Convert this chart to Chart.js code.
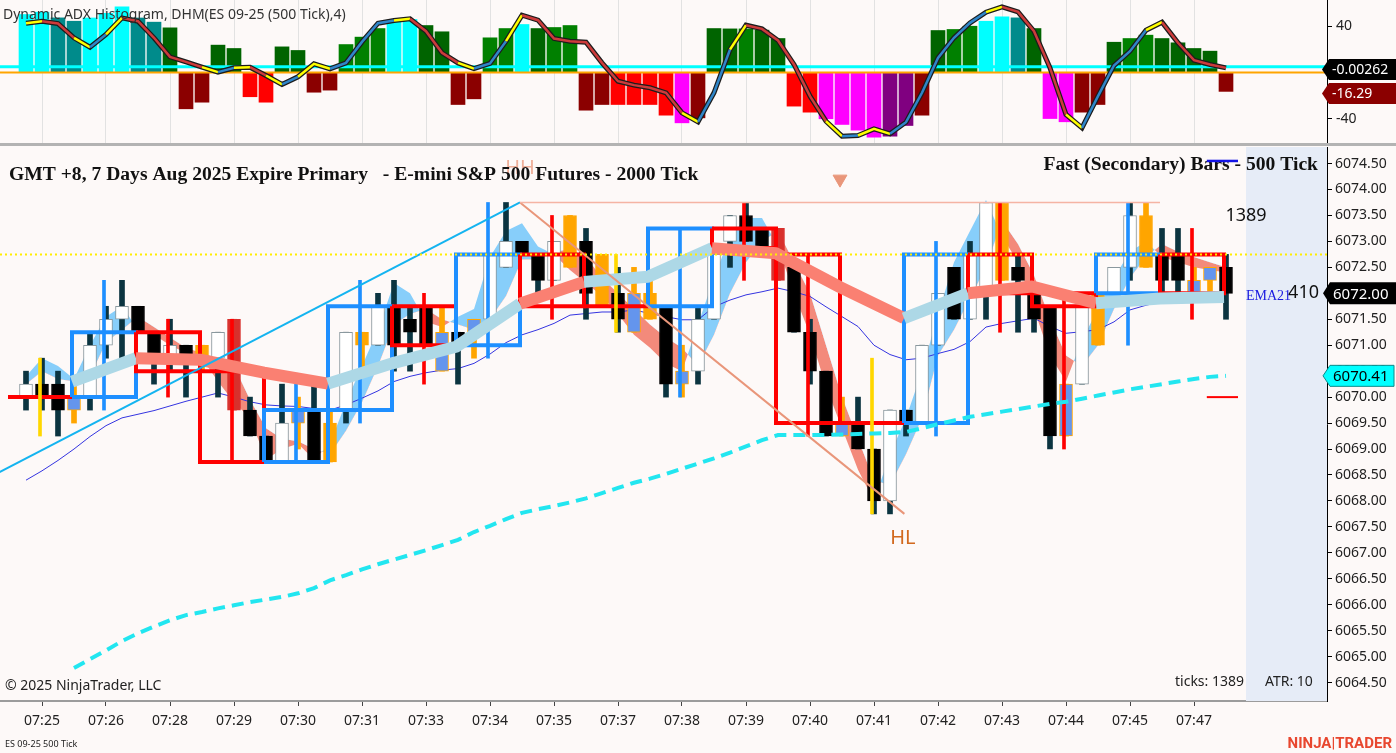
<!DOCTYPE html>
<html>
<head>
<meta charset="utf-8">
<title>ES 09-25 2000 Tick</title>
<script src="https://cdn.jsdelivr.net/npm/chart.js@4.4.1/dist/chart.umd.min.js"></script>
<style>
html,body{margin:0;padding:0;background:#fdf9f8;}
body{width:1396px;height:753px;position:relative;overflow:hidden;font-family:'Noto Sans',sans-serif;color:#222;}
canvas{position:absolute;left:0;}
#topC{top:0;}
#mainC{top:146px;}
#sep{position:absolute;left:0;top:143px;width:1396px;height:3px;background:#b3b3b3;}
.t{position:absolute;white-space:nowrap;line-height:1;}
</style>
</head>
<body>
<canvas id="topC" width="1396" height="143"></canvas>
<div id="sep"></div>
<canvas id="mainC" width="1396" height="594"></canvas>
<div class="t" style="left:5px;top:678px;font-size:14px;">© 2025 NinjaTrader, LLC</div>
<div class="t" style="left:1175px;top:674px;font-size:14px;">ticks: 1389</div>
<div class="t" style="left:1265px;top:674px;font-size:14px;">ATR: 10</div>
<div class="t" style="left:5px;top:739px;font-size:9px;">ES 09-25 500 Tick</div>
<div class="t" style="right:4px;top:736px;font-size:15px;font-weight:bold;color:#e8472f;font-family:Roboto,sans-serif;">NINJA|TRADER</div>
<script>
// ---------- DATA ----------
const timeLabels = ['07:25','07:26','07:28','07:29','07:30','07:31','07:33','07:34','07:35','07:37','07:38','07:39','07:40','07:41','07:42','07:43','07:44','07:45','07:47'];
const priceTicks = [6064.5,6065,6065.5,6066,6066.5,6067,6067.5,6068,6068.5,6069,6069.5,6070,6070.5,6071,6071.5,6072,6072.5,6073,6073.5,6074,6074.5];
const adxTicks = [40, -40];

// 500-tick candles
const candleOpen  = [6070.0,6070.25,6070.25,6070.0,6070.0,6071.0,6071.5,6071.75,6071.25,6070.75,
  6071.0,6071.0,6070.75,6071.5,6069.75,6069.25,6068.75,6069.75,6069.75,6069.5,
  6069.75,6071.25,6071.0,6071.75,6071.5,6071.75,6071.25,6071.25,6071.5,6071.5,
  6072.5,6073.0,6072.75,6072.25,6073.5,6073.0,6072.75,6072.0,6072.0,6072.0,
  6071.75,6070.5,6070.5,6071.5,6073.0,6073.5,6073.25,6073.25,6072.5,6071.25,
  6070.5,6069.5,6069.5,6069.0,6068.0,6069.75,6069.5,6071.0,6072.5,6071.5,
  6072.0,6073.75,6072.5,6072.0,6071.75,6070.25,6070.25,6072.0,6072.0,6072.5,
  6073.5,6072.75,6072.75,6072.25,6072.5,6072.5];
const candleHigh  = [6070.5,6070.75,6070.5,6070.25,6071.25,6071.75,6072.25,6071.75,6071.25,6071.5,
  6071.0,6071.0,6071.25,6071.5,6070.0,6069.25,6070.25,6070.0,6070.25,6069.75,
  6071.25,6071.25,6072.0,6072.25,6071.75,6071.75,6071.75,6071.25,6071.5,6072.75,
  6073.75,6073.0,6072.75,6073.0,6073.5,6073.25,6072.75,6072.5,6072.5,6072.25,
  6071.75,6071.0,6071.75,6072.75,6073.5,6073.75,6073.25,6073.25,6072.5,6071.5,
  6070.5,6070.0,6070.0,6069.0,6069.75,6069.75,6071.0,6072.0,6072.5,6073.0,
  6073.75,6073.75,6072.75,6072.0,6071.75,6070.25,6071.75,6072.0,6072.5,6073.75,
  6073.75,6073.25,6073.25,6072.5,6072.5,6072.75];
const candleLow   = [6069.75,6069.75,6069.25,6069.5,6069.75,6070.75,6070.75,6071.25,6070.25,6070.5,
  6070.0,6070.5,6070.0,6069.75,6069.25,6068.75,6068.75,6069.0,6068.75,6068.75,
  6069.5,6070.5,6071.0,6070.5,6070.5,6071.0,6070.5,6070.25,6070.75,6071.5,
  6072.5,6072.75,6072.0,6072.25,6072.5,6071.5,6071.75,6071.25,6071.25,6071.5,
  6070.0,6070.0,6070.25,6071.5,6072.5,6073.0,6072.75,6072.25,6071.25,6070.25,
  6069.25,6069.25,6069.0,6067.75,6067.75,6069.25,6069.5,6071.0,6071.5,6071.5,
  6071.5,6072.25,6071.25,6071.25,6069.0,6069.25,6070.25,6071.0,6072.0,6072.25,
  6072.5,6072.0,6072.0,6072.0,6072.0,6071.5];
const candleClose = [6070.25,6070.0,6069.75,6069.75,6071.0,6071.5,6071.75,6071.25,6070.75,6071.0,
  6070.75,6070.75,6071.25,6069.75,6069.25,6068.75,6069.5,6069.5,6068.75,6068.75,
  6071.25,6071.0,6071.75,6071.0,6071.25,6071.0,6070.5,6071.0,6071.25,6072.75,
  6073.0,6072.75,6072.25,6073.0,6072.5,6072.0,6071.75,6071.5,6071.25,6071.5,
  6070.25,6070.25,6071.5,6072.75,6073.5,6073.0,6072.75,6072.25,6071.25,6070.5,
  6069.25,6069.25,6069.0,6068.0,6069.75,6069.5,6071.0,6072.0,6071.5,6072.75,
  6073.75,6072.25,6072.25,6071.5,6069.25,6069.25,6071.75,6071.0,6072.5,6073.5,
  6072.5,6072.25,6072.25,6072.0,6072.25,6072.0];
// n = normal, o = orange signal bar, b = blue signal bar, r = crimson bar
const candleKind = ['n','n','n','b','n','n','n','n','n','n',
  'n','o','n','r','n','n','n','b','n','o',
  'n','o','n','n','n','n','b','n','b','n',
  'n','n','n','n','o','n','o','n','b','o',
  'n','b','n','n','n','n','n','r','n','n',
  'n','b','n','n','n','n','n','n','n','n',
  'n','o','n','n','n','b','n','o','n','n',
  'o','n','n','b','b','n'];

// 2000-tick bars (boxes)
const boxOpen  = [6070.0,6070.0,6071.25,6070.5,6068.75,6069.75,6071.75,6071.0,6072.75,6071.75,6071.75,6073.25,6072.75,6069.5,6069.5,6072.75,6072.0,6072.0,6072.75];
const boxHigh  = [6070.75,6072.25,6071.5,6071.5,6070.25,6072.25,6072.0,6073.75,6073.5,6072.75,6073.25,6073.75,6072.75,6070.75,6073.0,6073.75,6072.0,6073.75,6073.25];
const boxLow   = [6069.25,6069.75,6070.0,6068.75,6068.75,6069.5,6070.25,6070.75,6071.5,6071.25,6070.0,6072.25,6069.25,6067.75,6069.25,6071.25,6069.0,6071.0,6071.5];
const boxClose = [6070.0,6071.25,6070.5,6068.75,6069.75,6071.75,6071.0,6072.75,6071.75,6071.75,6073.25,6072.875,6069.5,6069.5,6072.75,6072.0,6071.75,6072.75,6072.0];

// thick trend line at 2000-tick bar edges, direction per segment
const trendVals = [6070.30,6070.75,6070.72,6070.47,6070.26,6070.65,6070.97,6071.80,6072.22,6072.32,6072.87,6072.77,6072.12,6071.52,6072.00,6072.13,6071.81,6071.90,6071.93];
const trendDir  = [1,-1,-1,-1,1,1,1,-1,1,1,-1,-1,-1,1,-1,-1,1,1];

// fast ribbon (two fast averages)
const fastA = [6070.4,6070.75,6070.6,6070.35,6071.0,6071.55,6071.75,6071.3,6071.2,6071.0,
  6070.85,6070.75,6070.3,6069.9,6069.6,6068.8,6069.0,6069.1,6068.8,6069.1,
  6069.9,6070.6,6071.3,6072.2,6072.0,6071.45,6071.35,6071.55,6071.7,6072.7,
  6073.2,6073.35,6072.9,6072.75,6072.45,6072.2,6071.95,6071.6,6071.2,6070.95,
  6070.65,6070.5,6071.4,6072.3,6073.1,6073.45,6073.45,6072.9,6072.0,6071.2,
  6070.2,6069.4,6068.6,6068.0,6068.9,6069.6,6070.5,6071.6,6072.6,6073.2,
  6073.8,6073.1,6072.6,6071.7,6070.8,6070.3,6071.1,6071.7,6072.3,6072.8,
  6073.0,6072.7,6072.6,6072.5,6072.45,6072.4];
const fastB = [6070.25,6070.5,6070.35,6070.3,6070.4,6071.05,6071.3,6071.55,6071.35,6071.15,
  6070.95,6070.85,6070.75,6070.6,6069.95,6069.4,6069.2,6069.15,6069.0,6068.9,
  6069.35,6069.9,6070.6,6071.4,6071.6,6071.7,6071.5,6071.4,6071.3,6071.5,
  6071.95,6072.65,6072.65,6072.8,6072.85,6072.7,6072.3,6072.0,6071.7,6071.4,
  6071.15,6070.95,6070.6,6071.2,6072.0,6072.6,6073.0,6073.2,6072.6,6072.0,
  6071.0,6070.0,6069.2,6068.4,6068.3,6068.9,6069.6,6070.8,6071.3,6071.9,
  6072.5,6073.4,6072.95,6072.35,6071.5,6070.8,6070.6,6071.0,6071.7,6072.3,
  6072.7,6072.95,6072.8,6072.7,6072.6,6072.5];

const ema21 = [6068.40,6068.58,6068.78,6069.00,6069.24,6069.45,6069.60,6069.67,6069.74,6069.83,
  6069.92,6070.00,6070.08,6070.00,6069.91,6069.85,6069.83,6069.82,6069.78,6069.75,
  6069.85,6069.98,6070.12,6070.30,6070.40,6070.47,6070.52,6070.55,6070.65,6070.83,
  6071.05,6071.20,6071.30,6071.42,6071.58,6071.61,6071.64,6071.64,6071.68,6071.61,
  6071.55,6071.49,6071.49,6071.74,6071.87,6071.97,6072.03,6072.10,6072.03,6071.94,
  6071.74,6071.55,6071.36,6071.00,6070.82,6070.72,6070.75,6070.84,6070.92,6071.07,
  6071.35,6071.42,6071.47,6071.52,6071.36,6071.23,6071.26,6071.30,6071.45,6071.68,
  6071.77,6071.84,6071.87,6071.90,6071.97,6071.97];

const slowMA = [null,null,null,6064.78,6064.95,6065.12,6065.30,6065.45,6065.58,6065.70,
  6065.80,6065.86,6065.93,6065.99,6066.05,6066.10,6066.15,6066.22,6066.32,6066.47,
  6066.57,6066.68,6066.78,6066.87,6066.96,6067.05,6067.15,6067.25,6067.40,6067.52,
  6067.65,6067.77,6067.84,6067.90,6067.97,6068.05,6068.15,6068.25,6068.35,6068.43,
  6068.52,6068.62,6068.72,6068.82,6068.93,6069.05,6069.17,6069.27,6069.27,6069.27,
  6069.27,6069.28,6069.29,6069.30,6069.31,6069.33,6069.40,6069.48,6069.55,6069.62,
  6069.67,6069.72,6069.77,6069.82,6069.87,6069.91,6069.97,6070.03,6070.09,6070.15,
  6070.20,6070.25,6070.30,6070.35,6070.39,6070.41];

// drawing objects anchored at [bar index, price]
const upTrendline   = [[-2, 6068.5], [30.875, 6073.75]];
const downTrendline = [[30.875, 6073.75], [54.9, 6067.75]];
const swingHighLine = [[30.875, 6073.75], [70.875, 6073.75]];
const yellowLevel   = 6072.75;
const redStub       = [[73.8, 6070.0], [75.75, 6070.0]];
const blueStub      = [[73.8, 6074.55], [75.75, 6074.55]];
const sellMarker    = [[50.875, 6074.2]];
const hhLabel       = [30.875, 6074.41];
const hlLabel       = [54.8, 6067.28];

// top panel: Dynamic ADX histogram
const adxHist = [50,52,47.1,44.2,47,51,56.6,47,43.4,38.5,
  -31.3,-25.6,23.6,20.7,-20.9,-25.6,22.1,19.0,-17.0,-15.2,
  24.1,30.5,37.9,44.2,45.7,40.5,35.1,-27.6,-22.7,29.9,
  37.9,41.4,37.9,38.8,40.5,-32.5,-27.6,-27.6,-27.6,-27.6,
  -36.8,-43.4,-39.1,37.9,37.6,37.6,36.5,29.3,-29.0,-34.2,
  -39.9,-44.8,-49.7,-55.8,-54.9,-45.7,-36.8,36.2,37.1,39.9,
  44.2,48.0,47.1,37.9,-39.7,-42.5,-34.2,-27.6,26.1,29.3,
  32.2,29.3,25.6,20.7,18.4,-16.29];
// C strong up, T fading up, G up, g rising up, R down, r rising down, M strong down, P fading down
const adxState = ['C','C','T','T','C','C','C','T','T','G',
  'R','R','G','G','r','r','G','G','R','R',
  'g','g','g','C','C','G','G','R','R','g',
  'g','C','G','g','g','R','R','r','r','r',
  'r','M','R','G','G','g','G','G','r','r',
  'M','M','M','M','P','P','R','G','g','g',
  'C','C','T','G','M','M','R','R','G','g',
  'g','G','G','G','G','R'];
const adxLine = [42.5,44.2,42.2,29.9,21.8,32.8,47.1,44.2,29.9,13.5,
  9.2,4.6,0.3,4.0,4.6,-2.6,-10.3,-3.7,7.5,3.2,
  8.3,26.4,42.5,44.8,46.3,35.6,17.0,8.3,3.4,7.8,
  27.0,49.4,45.1,29.3,27.0,26.1,8.3,-7.5,-10.9,-13.2,
  -17.5,-34.8,-42.5,-17.5,19.8,40.8,37.6,27.6,6.9,-20.4,
  -42.0,-54.9,-54.3,-48.6,-52.9,-42.8,-17.5,12.6,29.9,42.8,
  52.0,56.6,52.3,35.6,4.0,-36.2,-47.7,-20.4,6.0,18.4,
  36.5,43.4,25.6,10.6,6.9,4.0];
const adxLevels = [5, 0];
const adxSignalLast = -0.00262;

// ---------- LAYOUT CONSTANTS ----------
const XMIN = -1.625, XMAX = 81.3125;
const YMIN = 6064.145, YMAX = 6074.819;
const ATMIN = -60.78, ATMAX = 62.5;
const BOX_SPAN = 4, BOX_LEFT0 = -1.125;
const boxLeft = k => BOX_LEFT0 + k * BOX_SPAN;
const gridIdx = timeLabels.map((t, k) => 1 + k * BOX_SPAN);

const COL = {
  up:'#ffffff', upBorder:'#8a989e', down:'#000000', wick:'#0b3440',
  orange:'#ffa500', blue:'#6495ed', crimson:'#d8302c',
  boxUp:'#1e8fff', boxDown:'#ff0000', doji:'#ffd700',
  trUp:'#add8e6', trDown:'#fa8072',
  ribUp:'#87cefa', ribDown:'#f38a7b'
};
const ADXCOL = {C:'#00ffff',T:'#008b8b',G:'#006400',g:'#008000',R:'#8b0000',r:'#ff0000',M:'#ff00ff',P:'#800080'};

const pts = arr => arr.map((v, i) => ({x: i, y: v}));
const seg = arr => arr.map(p => ({x: p[0], y: p[1]}));

function bodyFill(i){
  const k = candleKind[i];
  if (k === 'o') return COL.orange;
  if (k === 'b') return COL.blue;
  if (k === 'r') return COL.crimson;
  return candleClose[i] > candleOpen[i] ? COL.up : COL.down;
}
function bodyBorder(i){
  const k = candleKind[i];
  if (k === 'o' || k === 'b') return COL.orange;
  if (k === 'r') return COL.crimson;
  return candleClose[i] > candleOpen[i] ? COL.upBorder : COL.down;
}
function wickColor(i){
  const k = candleKind[i];
  if (k === 'o' || k === 'b') return COL.orange;
  if (k === 'r') return COL.crimson;
  return COL.wick;
}
const boxColor = k => boxClose[k] > boxOpen[k] ? COL.boxUp : COL.boxDown;
const boxWickColor = k => boxClose[k] === boxOpen[k] ? COL.doji : boxColor(k);

// box polygons
const boxPts = [];
boxOpen.forEach((o, k) => {
  const l = boxLeft(k), r = l + BOX_SPAN, c = boxClose[k];
  boxPts.push({x:l,y:o},{x:r,y:o},{x:r,y:c},{x:l,y:c},{x:l,y:o},{x:l,y:null});
});

function drawTag(ctx, tipX, y, rightX, h, fill, stroke, text, color, font){
  ctx.save();
  ctx.beginPath();
  ctx.moveTo(tipX, y);
  ctx.lineTo(tipX + 7, y - h/2);
  ctx.lineTo(rightX, y - h/2);
  ctx.lineTo(rightX, y + h/2);
  ctx.lineTo(tipX + 7, y + h/2);
  ctx.closePath();
  ctx.fillStyle = fill; ctx.fill();
  if (stroke){ ctx.strokeStyle = stroke; ctx.lineWidth = 1; ctx.stroke(); }
  ctx.fillStyle = color; ctx.font = font; ctx.textAlign = 'left'; ctx.textBaseline = 'middle';
  ctx.fillText(text, tipX + 10, y + 1);
  ctx.restore();
}

// ---------- MAIN CHART ----------
const mainPlugin = {
  id: 'mainOverlay',
  beforeDatasetsDraw(chart){
    const {ctx, chartArea: a, scales: {x}} = chart;
    const xs = x.getPixelForValue(candleOpen.length + 0.25);
    ctx.save();
    ctx.fillStyle = '#e6ecf7';
    ctx.fillRect(xs, a.top, a.right - xs, a.bottom - a.top);
    ctx.restore();
  },
  afterDatasetsDraw(chart){
    const {ctx, chartArea: a, scales: {x, y}} = chart;
    ctx.save();
    ctx.font = '20px "Noto Sans"';
    ctx.fillStyle = 'rgba(233,150,122,0.75)';
    ctx.textAlign = 'center'; ctx.textBaseline = 'middle';
    ctx.fillText('HH', x.getPixelForValue(hhLabel[0]), y.getPixelForValue(hhLabel[1]));
    ctx.fillStyle = '#d2691e';
    ctx.fillText('HL', x.getPixelForValue(hlLabel[0]), y.getPixelForValue(hlLabel[1]));
    ctx.fillStyle = '#111';
    ctx.font = 'bold 19.6px "Liberation Serif"';
    ctx.textAlign = 'left';
    ctx.fillText('GMT +8, 7 Days Aug 2025 Expire Primary   - E-mini S&P 500 Futures - 2000 Tick', a.left + 9, a.top + 28);
    ctx.textAlign = 'right';
    ctx.fillText('Fast (Secondary) Bars - 500 Tick', a.right - 9, a.top + 18);
    ctx.strokeStyle = '#1414e6'; ctx.lineWidth = 2.5;
    ctx.beginPath();
    ctx.moveTo(x.getPixelForValue(blueStub[0][0]), y.getPixelForValue(blueStub[0][1]));
    ctx.lineTo(x.getPixelForValue(blueStub[1][0]), y.getPixelForValue(blueStub[1][1]));
    ctx.stroke();
    ctx.font = '18px "Noto Sans"'; ctx.fillStyle = '#111';
    ctx.textAlign = 'center';
    ctx.fillText('1389', x.getPixelForValue(candleOpen.length + 0.25), y.getPixelForValue(6073.5));
    const yLast = y.getPixelForValue(candleClose[candleClose.length - 1]);
    ctx.textAlign = 'right';
    ctx.fillText('410', a.right - 8, yLast);
    ctx.font = '14px "Liberation Serif"'; ctx.fillStyle = '#1a1ae0'; ctx.textAlign = 'left';
    ctx.fillText('EMA21', x.getPixelForValue(candleOpen.length + 0.25), yLast + 3);
    ctx.restore();
  },
  afterDraw(chart){
    const {ctx, chartArea: a, scales: {y}} = chart;
    const last = candleClose[candleClose.length - 1];
    const slowLast = slowMA[slowMA.length - 1];
    drawTag(ctx, a.right - 4, y.getPixelForValue(slowLast), 1394, 21, '#00ffff', '#0a8a8a', slowLast.toFixed(2), '#000', '15px "Noto Sans"');
    drawTag(ctx, a.right - 4, y.getPixelForValue(last), 1396, 22, '#000000', null, last.toFixed(2), '#fff', '15px "Noto Sans"');
  }
};

new Chart(document.getElementById('mainC'), {
  type: 'bar',
  data: {
    datasets: [
      { type:'line', label:'fastA', data: pts(fastA), borderWidth:0, pointRadius:0, order:100,
        fill:{target:1, above:COL.ribUp, below:COL.ribDown} },
      { type:'line', label:'fastB', data: pts(fastB), borderWidth:0, pointRadius:0, order:99 },
      { type:'line', label:'EMA21', data: pts(ema21), borderColor:'#3434e0', borderWidth:1, pointRadius:0, order:90 },
      { type:'bar', label:'wicks', data: candleOpen.map((o,i)=>({x:i, y:[candleLow[i], candleHigh[i]]})),
        backgroundColor: c => wickColor(c.dataIndex), barThickness:5, grouped:false, order:80 },
      { type:'bar', label:'bodies', data: candleOpen.map((o,i)=>({x:i, y:[o, candleClose[i]]})),
        backgroundColor: c => bodyFill(c.dataIndex), borderColor: c => bodyBorder(c.dataIndex),
        borderWidth:1, borderSkipped:false, barThickness:13, minBarLength:2, grouped:false, order:79 },
      { type:'line', label:'boxes', data: boxPts, borderColor: COL.boxDown, borderWidth:4, pointRadius:0,
        borderJoinStyle:'miter', spanGaps:false, order:70,
        segment:{ borderColor: c => boxColor(Math.floor(c.p0DataIndex / 6)) } },
      { type:'bar', label:'boxWicks', data: boxOpen.map((o,k)=>({x: boxLeft(k) + BOX_SPAN/2, y:[boxLow[k], boxHigh[k]]})),
        backgroundColor: c => boxWickColor(c.dataIndex), barThickness:3, grouped:false, order:69 },
      { type:'line', label:'trend', data: trendVals.map((v,j)=>({x: boxLeft(j+1), y: v})),
        borderColor: COL.trUp, borderWidth:12, pointRadius:0, borderCapStyle:'butt', borderJoinStyle:'round', order:60,
        segment:{ borderColor: c => trendDir[c.p0DataIndex] > 0 ? COL.trUp : COL.trDown } },
      { type:'line', label:'slow', data: pts(slowMA), borderColor:'#22e6f0', borderWidth:4, borderDash:[12,7], pointRadius:0, order:55 },
      { type:'line', label:'upTL', data: seg(upTrendline), borderColor:'#14b4f0', borderWidth:2, pointRadius:0, order:50 },
      { type:'line', label:'downTL', data: seg(downTrendline), borderColor:'#e9967a', borderWidth:2, pointRadius:0, order:49 },
      { type:'line', label:'swingHigh', data: seg(swingHighLine), borderColor:'#f5b4a4', borderWidth:1.5, pointRadius:0, order:48 },
      { type:'line', label:'yellow', data: [{x:XMIN,y:yellowLevel},{x:XMAX,y:yellowLevel}], borderColor:'#ffee00', borderWidth:2, borderDash:[2,3], pointRadius:0, order:40 },
      { type:'line', label:'redStub', data: seg(redStub), borderColor:'#ff0000', borderWidth:2, pointRadius:0, order:39 },
      { type:'line', label:'marker', data: seg(sellMarker), showLine:false, pointStyle:'triangle', rotation:180,
        pointRadius:8, pointBackgroundColor:'#e9967a', pointBorderColor:'#e9967a', order:38 }
    ]
  },
  options: {
    responsive:false, animation:false,
    layout:{ autoPadding:false, padding:{ top:1, left:0, right:0, bottom:0 } },
    plugins:{ legend:{display:false}, tooltip:{enabled:false} },
    scales:{
      x:{ type:'linear', min:XMIN, max:XMAX, offset:false,
          afterBuildTicks: s => { s.ticks = gridIdx.map(v => ({value:v})); },
          ticks:{ autoSkip:false, maxRotation:0, minRotation:0, callback:(v,i)=>timeLabels[i],
                  font:{family:'Noto Sans', size:14}, color:'#222', padding:7 },
          grid:{ offset:false, drawOnChartArea:false, drawTicks:true, tickLength:5, color:'#444' },
          border:{ display:true, color:'#9c9c9c', width:2 },
          afterFit: s => { s.height = 39; s.paddingLeft = 0; s.paddingRight = 0; } },
      y:{ type:'linear', position:'right', min:YMIN, max:YMAX,
          afterBuildTicks: s => { s.ticks = priceTicks.map(v => ({value:v})); },
          ticks:{ callback: v => Number(v).toFixed(2), font:{family:'Noto Sans', size:14}, color:'#222', padding:3 },
          grid:{ drawOnChartArea:false, drawTicks:true, tickLength:5, color:'#000' },
          border:{ display:true, color:'#000', width:1 },
          afterFit: s => { s.width = 69; s.paddingTop = 0; s.paddingBottom = 0; } }
    }
  },
  plugins:[mainPlugin]
});

// ---------- TOP CHART ----------
const adxSegColor = c => {
  const i0 = c.p0DataIndex, i1 = c.p1DataIndex;
  const d = adxLine[i1] - adxLine[i0];
  const nx = i1 + 1 < adxLine.length ? adxLine[i1 + 1] - adxLine[i1] : d;
  if (d * nx < 0) return '#ffff00';
  return d >= 0 ? '#2f85c8' : '#cc3b3b';
};
const topPlugin = {
  id: 'topOverlay',
  afterDatasetsDraw(chart){
    const {ctx, chartArea: a} = chart;
    ctx.save();
    ctx.font = '14px "Noto Sans"'; ctx.fillStyle = '#333';
    ctx.textAlign = 'left'; ctx.textBaseline = 'middle';
    ctx.fillText('Dynamic ADX Histogram, DHM(ES 09-25 (500 Tick),4)', a.left + 3, 15);
    ctx.restore();
  },
  afterDraw(chart){
    const {ctx, chartArea: a, scales: {y}} = chart;
    const last = adxHist[adxHist.length - 1];
    drawTag(ctx, a.right - 5, y.getPixelForValue(adxSignalLast) - 3, 1396, 21, '#000000', null, String(adxSignalLast), '#fff', '14px "Noto Sans"');
    drawTag(ctx, a.right - 5, y.getPixelForValue(last) + 2, 1396, 21, '#8b0000', null, last.toFixed(2), '#fff', '14px "Noto Sans"');
  }
};

new Chart(document.getElementById('topC'), {
  type:'bar',
  data:{
    datasets:[
      { type:'line', label:'level', data:[{x:XMIN,y:adxLevels[0]},{x:XMAX,y:adxLevels[0]}], borderColor:'#00ffff', borderWidth:3, pointRadius:0, order:20 },
      { type:'line', label:'zero', data:[{x:XMIN,y:adxLevels[1]},{x:XMAX,y:adxLevels[1]}], borderColor:'#ffa500', borderWidth:2, pointRadius:0, order:19 },
      { type:'bar', label:'hist', data: pts(adxHist), backgroundColor: c => ADXCOL[adxState[c.dataIndex]],
        barThickness:14, grouped:false, order:30 },
      { type:'line', label:'adxOutline', data: pts(adxLine), borderColor:'#1c1c1c', borderWidth:5, pointRadius:0, order:10 },
      { type:'line', label:'adx', data: pts(adxLine), borderColor:'#cc3b3b', borderWidth:2.5, pointRadius:0, order:5,
        segment:{ borderColor: adxSegColor } }
    ]
  },
  options:{
    responsive:false, animation:false,
    layout:{ autoPadding:false, padding:0 },
    plugins:{ legend:{display:false}, tooltip:{enabled:false} },
    scales:{
      x:{ type:'linear', min:XMIN, max:XMAX, offset:false,
          afterBuildTicks: s => { s.ticks = gridIdx.map(v => ({value:v})); },
          ticks:{ display:false },
          grid:{ offset:false, color:'#e2e2e2', drawTicks:false },
          border:{ display:false },
          afterFit: s => { s.height = 0; s.paddingLeft = 0; s.paddingRight = 0; } },
      y:{ type:'linear', position:'right', min:ATMIN, max:ATMAX,
          afterBuildTicks: s => { s.ticks = adxTicks.map(v => ({value:v})); },
          ticks:{ font:{family:'Noto Sans', size:14}, color:'#222', padding:4 },
          grid:{ drawOnChartArea:false, drawTicks:true, tickLength:5, color:'#000' },
          border:{ display:true, color:'#000', width:1 },
          afterFit: s => { s.width = 69; s.paddingTop = 0; s.paddingBottom = 0; } }
    }
  },
  plugins:[topPlugin]
});
</script>
</body>
</html>
